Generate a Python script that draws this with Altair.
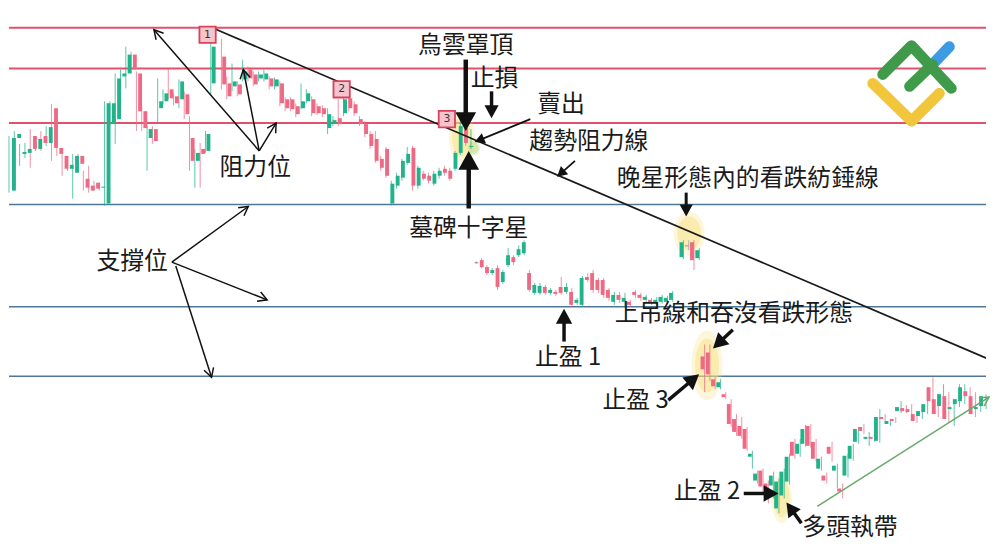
import math
import altair as alt
import pandas as pd

# ---------------- candle data (price levels, in screen-row units: smaller = higher) -----
opens = [190,137,153,152,135,148,135,142,107,147, 155,168,172,155,178,185,182,187,203,122,
         118,75,72,53,72,110,137,128,107,100, 88,95,98,93,137,160,148,150,82,
         55,82,85,83,78,68,73,77,78,77, 85,82,98,98,105,107,100,98,105,107,
         127,122,117,112,97,103,118,123,133,138, 158,148,203,185,177,162,147,185,173,175,
         183,175,168,170,168,152,127,146,
         262,260,267,273,268,282,265,257,255,253, 273,293,293,287,293,292,287,292,292,303,
         305,277,273,280,280,290,302,295,302,302, 292,295,300,300,303,302,302,300,
         257,245,242,258,357,353,380,388,395,405, 420,427,430,458,482,472,485,487,510,497,
         483,443,455,445,427,443,470,477,448,472, 490,477,460,443,428,440,438,442,418,425,
         420,412,409,410,415,417,413,388,400,407, 397,410,405,402,392,397,410,407]
closes = [137,133,151,148,148,138,142,126,147,153, 168,164,155,163,187,190,188,186,102,102,
          77,72,53,68,110,127,128,140,100,92, 97,102,80,113,160,152,153,133,45,
          83,95,80,93,70,77,83,73,72,85, 78,102,107,108,113,100,92,112,112,113,
          113,119,123,98,107,112,123,133,145,160, 167,175,183,175,160,153,185,167,178,180,
          173,170,172,178,152,125,142,145,
          262,267,273,270,287,272,255,262,249,242, 290,285,286,293,290,294,293,287,305,300,
          278,280,290,290,295,298,295,300,298,305, 295,298,297,303,300,297,298,293,
          242,245,260,250,370,375,387,383,398,425, 433,437,450,455,475,488,490,477,483,473,
          458,457,445,430,447,460,460,482,455,467, 493,457,447,430,432,438,440,418,420,422,
          422,408,412,413,422,412,405,402,415,395, 420,408,400,388,397,415,408,397]
highs = [135,130,143,142,128,136,130,125,103,143, 150,162,153,153,170,165,180,184,100,100,
         72,68,45,50,70,106,125,125,77,88, 67,92,78,90,115,148,142,130,40,
         37,75,62,80,58,65,70,70,68,75, 76,80,96,96,102,82,88,95,102,104,
         107,115,98,93,93,100,115,120,130,130, 155,146,180,172,158,146,145,165,170,172,
         170,167,165,167,150,120,122,128,
         261,258,265,268,265,270,248,255,245,240, 270,283,283,285,288,290,277,283,288,298,
         276,273,270,278,278,288,292,292,293,300, 290,293,295,298,297,295,296,291,
         240,240,240,248,345,345,378,380,393,400, 415,418,428,452,472,470,482,473,480,470,
         455,440,440,426,425,440,458,474,443,465, 485,455,445,428,425,433,435,410,415,420,
         418,402,406,405,412,410,400,378,395,385, 393,403,385,385,388,393,405,395]
lows = [192,143,165,157,167,150,150,145,160,155, 175,170,198,168,190,192,190,190,205,124,
        143,78,87,72,130,130,170,143,123,103, 98,104,107,118,170,187,187,152,93,
        88,98,90,95,80,80,85,80,80,88, 88,105,110,110,116,108,102,115,114,116,
        133,125,125,115,110,115,125,136,148,162, 170,177,205,188,180,164,190,188,180,183,
        185,178,175,180,170,154,145,148,
        264,268,275,275,290,284,267,265,257,255, 292,295,295,295,295,296,295,294,307,305,
        307,282,293,293,298,301,305,303,306,307, 298,301,303,305,305,304,304,302,
        259,250,270,260,393,382,390,390,400,428, 437,440,452,470,485,497,505,500,515,500,
        486,460,458,448,449,463,472,485,463,490, 500,479,462,445,435,447,443,444,423,427,
        424,414,414,416,424,420,415,405,418,410, 423,427,408,405,400,418,413,410]
# trading-day index of each candle (two sessions missing from the picture)
days = list(range(0, 39)) + list(range(40, 126)) + list(range(127, 185))

# ---------------- levels ----------------
resistance_levels = [26, 67, 122]
support_levels = [204, 307, 377]
trend_px = [215, 1000]
trend_row = [27, 362]

# ---------------- annotation texts ----------------
label_text = ["烏雲罩頂", "止損", "賣出", "趨勢阻力線", "晚星形態內的看跌紡錘線", "墓碑十字星",
              "阻力位", "支撐位", "上吊線和吞沒看跌形態", "止盈 1", "止盈 3", "止盈 2", "多頭執帶"]
label_px = [468, 497, 564, 592, 752, 471, 256, 132, 738, 571, 639, 711, 855]
label_row = [44, 78, 104, 141, 178, 229, 167, 262, 314, 359, 402, 494, 530]

# arrows: start -> tip
arr_x0 = [468, 494, 471, 567, 672, 748, 806, 690, 737, 533, 578]
arr_y0 = [58, 90, 208, 342, 401, 495, 525, 192, 330, 118, 160]
arr_x1 = [468, 494, 471, 567, 703, 783, 791, 690, 717, 477, 560]
arr_y1 = [130, 117, 150, 309, 375, 495, 504, 216, 349, 141, 176]
arr_w = [4.5, 3.5, 4.5, 3.5, 3.5, 3.5, 3.5, 3, 3.5, 1.8, 1.8]
arr_head = [19, 13, 19, 15, 15, 15, 14, 12, 15, 10, 10]

thin_x0 = [260, 260, 260, 172, 172, 176, 822]
thin_y0 = [150, 150, 150, 262, 262, 266, 508]
thin_x1 = [154, 244, 277, 249, 268, 212, 995]
thin_y1 = [28, 68, 122, 206, 300, 378, 398]
thin_color = ["#111111"] * 6 + ["#6aa96a"]

marker_text = ["1", "2", "3"]
marker_px = [208, 343, 449]
marker_row = [33, 88, 118]

glow_px = [464, 693, 711, 786, 476]
glow_row = [136, 233, 366, 500, 147]
glow_w = [20, 24, 24, 16, 10]
glow_h = [40, 34, 54, 38, 12]
glow_color = ["#f7df7a", "#f7df7a", "#f7df7a", "#f7df7a", "#b9d97a"]

logo_part = ["y", "y", "y", "b", "b", "g1", "g1", "g1", "g2", "g2"]
logo_px = [878, 917, 945, 938, 955, 888, 917, 957, 915, 938]
logo_row = [82, 120, 92, 63, 45, 73, 44, 87, 85, 63]
logo_colors = {"y": "#f2c63a", "b": "#3c9be2", "g1": "#3f9b4a", "g2": "#3f9b4a"}

# ---------------- build tables ----------------
GREEN, RED, GREY = "#22b38b", "#ee6a84", "#9aa3a8"
cd = pd.DataFrame({"day": days, "o": opens, "c": closes, "h": highs, "l": lows})
cd["col"] = [GREEN if c < o else (RED if c > o else GREY) for o, c in zip(cd.o, cd.c)]
cd["top"] = cd[["o", "c"]].min(axis=1)
cd["bot"] = cd[["o", "c"]].max(axis=1)
cd.loc[cd.top == cd.bot, "bot"] = cd.top + 1.2

W, H = 984, 542
xs_day = alt.Scale(domain=[0, 184], nice=False, zero=False)
xs_px = alt.Scale(domain=[8, 992], nice=False, zero=False)
ys = alt.Scale(domain=[8, 550], reverse=True, nice=False, zero=False)


def X(f):
    return alt.X(f, type="quantitative", scale=xs_px, axis=None)


def Y(f):
    return alt.Y(f, type="quantitative", scale=ys, axis=None)


wicks = alt.Chart(cd).mark_rule(strokeWidth=1, opacity=0.75).encode(
    x=alt.X("day:Q", scale=xs_day, axis=None), y=Y("h"), y2="l",
    color=alt.Color("col:N", scale=None))
bodies = alt.Chart(cd).mark_bar(size=3.9).encode(
    x=alt.X("day:Q", scale=xs_day, axis=None), y=Y("top"), y2="bot",
    color=alt.Color("col:N", scale=None))

res = alt.Chart(pd.DataFrame({"row": resistance_levels})).mark_rule(
    color="#e3506b", strokeWidth=2).encode(y=Y("row"))
sup = alt.Chart(pd.DataFrame({"row": support_levels})).mark_rule(
    color="#4f7896", strokeWidth=1.6).encode(y=Y("row"))
trend = alt.Chart(pd.DataFrame({"px": trend_px, "row": trend_row})).mark_line(
    color="#1a1a1a", strokeWidth=1.7, clip=True).encode(x=X("px"), y=Y("row"))

# glows
ELL = lambda a: f"M{-a},0 A{a},1 0 1,0 {a},0 A{a},1 0 1,0 {-a},0 Z"
gd = pd.DataFrame({"px": glow_px, "row": glow_row, "col": glow_color})
gd["shape"] = [ELL(round(w / h, 3)) for w, h in zip(glow_w, glow_h)]
gd["s"] = [h * h for h in glow_h]
gd["s2"] = [(h * 1.3) ** 2 for h in glow_h]
glow_outer = alt.Chart(gd).mark_point(filled=True, opacity=0.28, strokeWidth=0).encode(
    x=X("px"), y=Y("row"), shape=alt.Shape("shape:N", scale=None),
    size=alt.Size("s2:Q", scale=None), color=alt.Color("col:N", scale=None))
glow_inner = alt.Chart(gd).mark_point(filled=True, opacity=0.45, strokeWidth=0).encode(
    x=X("px"), y=Y("row"), shape=alt.Shape("shape:N", scale=None),
    size=alt.Size("s:Q", scale=None), color=alt.Color("col:N", scale=None))

# thick arrows
rows = []
for x0, y0, x1, y1, w, L in zip(arr_x0, arr_y0, arr_x1, arr_y1, arr_w, arr_head):
    dx, dy = x1 - x0, y1 - y0
    n = math.hypot(dx, dy)
    ux, uy = dx / n, dy / n
    ang = (math.degrees(math.atan2(dx, -dy)) + 360) % 360
    rows.append({"x0": x0, "y0": y0, "xe": x1 - ux * L * 0.7, "ye": y1 - uy * L * 0.7,
                 "x1": x1, "y1": y1, "w": w, "s": 4 * L * L, "ang": ang})
ad = pd.DataFrame(rows)
shafts = alt.Chart(ad).mark_rule(color="#111111").encode(
    x=X("x0"), y=Y("y0"), x2="xe", y2="ye", strokeWidth=alt.StrokeWidth("w:Q", scale=None))
heads = alt.Chart(ad).mark_point(filled=True, color="#111111", opacity=1, strokeWidth=0,
                                 shape="M0,0 L0.55,1 L-0.55,1 Z").encode(
    x=X("x1"), y=Y("y1"), size=alt.Size("s:Q", scale=None), angle=alt.Angle("ang:Q", scale=None))

# thin arrows with open heads
trows = []
for x0, y0, x1, y1, col in zip(thin_x0, thin_y0, thin_x1, thin_y1, thin_color):
    dx, dy = x1 - x0, y1 - y0
    ang = (math.degrees(math.atan2(dx, -dy)) + 360) % 360
    trows.append({"x0": x0, "y0": y0, "x1": x1, "y1": y1, "ang": ang, "col": col})
td = pd.DataFrame(trows)
tshafts = alt.Chart(td).mark_rule(strokeWidth=1.5).encode(
    x=X("x0"), y=Y("y0"), x2="x1", y2="y1", color=alt.Color("col:N", scale=None))
theads = alt.Chart(td).mark_point(filled=False, strokeWidth=1.5, opacity=1, size=400,
                                  shape="M-0.5,0.9 L0,0 L0.5,0.9").encode(
    x=X("x1"), y=Y("y1"), angle=alt.Angle("ang:Q", scale=None), stroke=alt.Stroke("col:N", scale=None))

# numbered markers
md = pd.DataFrame({"t": marker_text, "px": marker_px, "row": marker_row})
mboxes = alt.Chart(md).mark_point(shape="square", filled=True, size=270, fill="#f7c4cd",
                                  stroke="#d8425a", strokeWidth=1.8, opacity=1).encode(x=X("px"), y=Y("row"))
mtext = alt.Chart(md).mark_text(fontSize=11, color="#333333", font="DejaVu Sans").encode(
    x=X("px"), y=Y("row"), text="t:N")

# labels
ld = pd.DataFrame({"t": label_text, "px": label_px, "row": label_row})
labels = alt.Chart(ld).mark_text(font="Noto Sans CJK TC", fontSize=24, color="#1a1a1a",
                                 align="center", baseline="middle").encode(
    x=X("px"), y=Y("row"), text="t:N")

# logo
lg = pd.DataFrame({"part": logo_part, "px": logo_px, "row": logo_row})
lg["ord"] = range(len(lg))
logo_layers = []
for part in ["y", "b", "g1", "g2"]:
    logo_layers.append(alt.Chart(lg[lg.part == part]).mark_line(
        strokeWidth=11, strokeCap="round", strokeJoin="round", color=logo_colors[part]).encode(
        x=X("px"), y=Y("row"), order="ord:Q"))

chart = alt.layer(
    res, sup, glow_outer, glow_inner, wicks, bodies, trend,
    tshafts, theads, shafts, heads, mboxes, mtext, labels, *logo_layers
).resolve_scale(x="independent").properties(
    width=W, height=H, padding=0, background="white"
).configure_view(strokeWidth=0)

chart.save("out.html", embed_options={"renderer": "svg", "actions": False})
